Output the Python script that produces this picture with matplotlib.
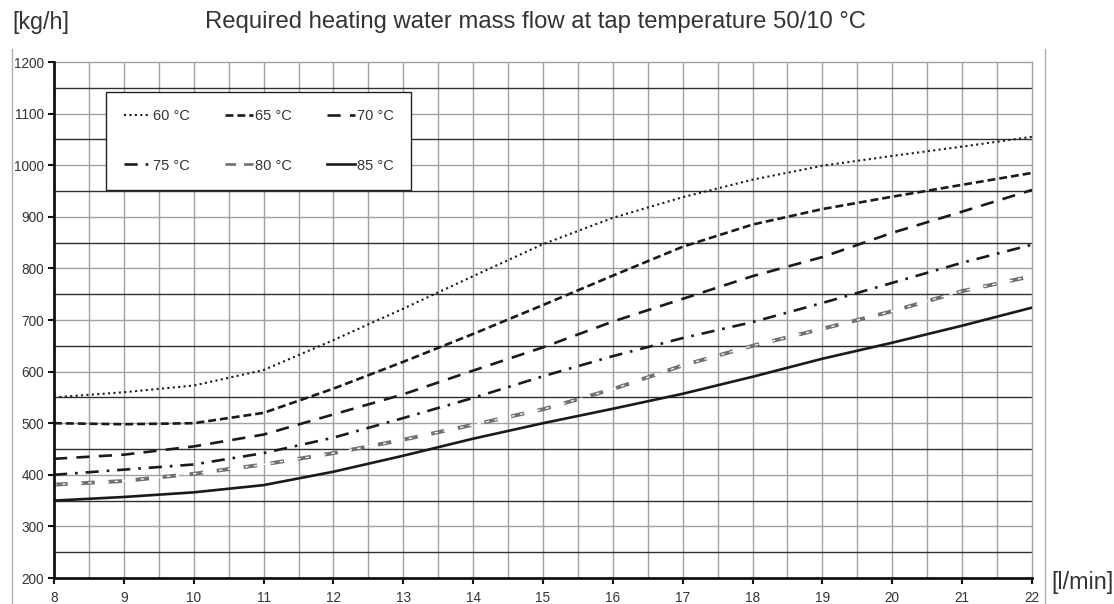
import matplotlib
matplotlib.use("Agg")
import matplotlib.pyplot as plt
from matplotlib.lines import Line2D
import numpy as np

plt.rcParams['font.family'] = ['Liberation Sans', 'DejaVu Sans']

flow = [8, 9, 10, 11, 12, 13, 14, 15, 16, 17, 18, 19, 20, 21, 22]
t60 = [550, 560, 573, 603, 661, 722, 785, 847, 898, 938, 972, 999, 1018, 1036, 1055]
t65 = [500, 498, 500, 520, 567, 619, 673, 729, 786, 842, 885, 915, 939, 962, 985]
t70 = [431, 439, 455, 478, 517, 556, 602, 647, 697, 741, 785, 822, 869, 910, 952]
t75 = [400, 410, 420, 442, 472, 510, 549, 591, 630, 665, 696, 733, 772, 811, 846]
t80 = [381, 388, 402, 420, 442, 468, 497, 527, 566, 612, 650, 683, 717, 756, 785]
t85 = [350, 357, 366, 380, 406, 437, 470, 500, 528, 557, 590, 625, 656, 689, 724]
labels = ["60 °C", "65 °C", "70 °C", "75 °C", "80 °C", "85 °C"]
xticks = list(range(8, 23))
yticks = list(range(200, 1201, 100))

fig = plt.figure(figsize=(11.14, 6.04), dpi=100)
ax = fig.add_axes([54/1114, 1-578/604, (1032-54)/1114, (578-62)/604])
ax.set_xlim(8, 22)
ax.set_ylim(200, 1200)

# grid
for xv in np.arange(8.5, 22, 0.5):
    ax.axvline(xv, color='#a0a0a0', lw=1.0, zorder=1)
for yv in range(300, 1200, 100):
    ax.axhline(yv, color='#a0a0a0', lw=1.0, zorder=1)
for yv in range(250, 1200, 100):
    ax.axhline(yv, color='#303030', lw=1.0, zorder=1)

c = '#1a1a1a'
ax.plot(flow, t60, color=c, lw=1.5, linestyle=(0, (1, 1.6)), zorder=3)
ax.plot(flow, t65, color=c, lw=1.9, linestyle=(0, (3.0, 1.5)), zorder=3)
ax.plot(flow, t70, color=c, lw=1.9, linestyle=(0, (5, 3.5)), zorder=3)
ax.plot(flow, t75, color=c, lw=1.9, linestyle=(0, (5, 3, 1, 3)), zorder=3)
ax.plot(flow, t80, color='#707070', lw=2.8, linestyle=(0, (3.5, 3.5)), zorder=3)
ax.plot(flow, t80, color='white', lw=0.9, linestyle=(0.4, (2.7, 4.3)), zorder=3)
ax.plot(flow, t85, color=c, lw=1.9, linestyle='-', zorder=3)

# spines
for s in ['top', 'right']:
    ax.spines[s].set_color('#a0a0a0')
    ax.spines[s].set_linewidth(1.0)
for s in ['left', 'bottom']:
    ax.spines[s].set_color('#111111')
    ax.spines[s].set_linewidth(2.0)
    ax.spines[s].set_zorder(4)

ax.set_xticks(xticks)
ax.set_yticks(yticks)
ax.tick_params(axis='both', direction='out', length=4, width=1.5, color='#111111',
               labelsize=9.8, labelcolor='#333333')
ax.tick_params(axis='y', pad=3)
ax.tick_params(axis='x', pad=5)

handles = [
    Line2D([], [], color=c, lw=1.5, linestyle=(0, (1, 1.6))),
    Line2D([], [], color=c, lw=1.9, linestyle=(0, (3.0, 1.5))),
    Line2D([], [], color=c, lw=1.9, linestyle=(0, (5, 3.5))),
    Line2D([], [], color=c, lw=1.9, linestyle=(0, (5, 3, 1, 3))),
    Line2D([], [], color='#707070', lw=1.9, linestyle=(0, (4, 3))),
    Line2D([], [], color=c, lw=1.9, linestyle='-'),
]
order = [0, 3, 1, 4, 2, 5]
leg = ax.legend([handles[i] for i in order], [labels[i] for i in order],
                ncol=3, loc='upper left', bbox_to_anchor=(52/978, 1-30/516),
                borderaxespad=0,
                frameon=True, fancybox=False, edgecolor='#222222', framealpha=1,
                fontsize=10.5, handlelength=1.9, handletextpad=0.15,
                columnspacing=2.4, labelspacing=2.4, borderpad=1.2,
                labelcolor='#333333')
leg.get_frame().set_linewidth(1.0)
leg.set_zorder(5)

fs = 16.8
fig.text(12/1114, 1-22/604, "[kg/h]", fontsize=fs, color='#333333', va='center', ha='left')
fig.text(205/1114, 1-22/604, "Required heating water mass flow at tap temperature 50/10 °C",
         fontsize=17.2, color='#333333', va='center', ha='left')
fig.text(1051/1114, 1-582/604, "[l/min]", fontsize=fs, color='#333333', va='center', ha='left')

fig.add_artist(Line2D([12/1114, 12/1114], [0, 1-49/604], color='#b0b0b0', lw=1.0))
fig.add_artist(Line2D([1045/1114, 1045/1114], [0, 1-49/604], color='#b0b0b0', lw=1.0))

fig.savefig("out.png", dpi=100)
